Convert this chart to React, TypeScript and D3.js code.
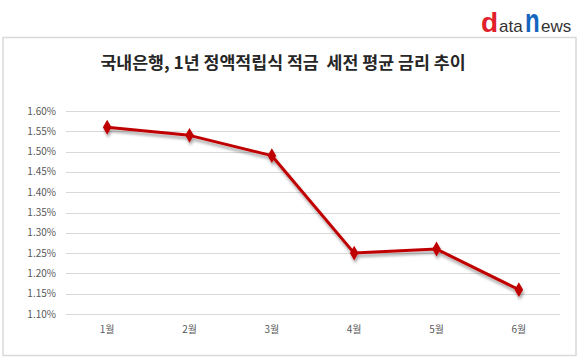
import React from "react";
import * as d3 from "d3";

const categories = ["1월", "2월", "3월", "4월", "5월", "6월"];
const values = [1.56, 1.54, 1.49, 1.25, 1.26, 1.16];
const yTicks = [1.1, 1.15, 1.2, 1.25, 1.3, 1.35, 1.4, 1.45, 1.5, 1.55, 1.6];
const title = "국내은행, 1년 정액적립식 적금  세전 평균 금리 추이";

export default function App() {
  const W = 580, H = 360;
  const left = 66, right = 560, top = 111, bottom = 314;
  const x = d3.scaleBand<string>().domain(categories).range([left, right]);
  const y = d3.scaleLinear().domain([1.1, 1.6]).range([bottom, top]);
  const cx = (c: string) => (x(c) as number) + x.bandwidth() / 2;
  const line = d3
    .line<number>()
    .x((_, i) => cx(categories[i]))
    .y((v) => y(v));
  const diamond = d3.symbol().type(d3.symbolDiamond).size(64)();
  const font = "'Noto Sans CJK KR', 'Noto Sans', sans-serif";
  return (
    <svg
      width={W}
      height={H}
      style={{ position: "absolute", left: 0, top: 0, background: "#fff" }}
    >
      <defs>
        <filter id="sh" x="-10%" y="-10%" width="120%" height="130%">
          <feGaussianBlur in="SourceAlpha" stdDeviation="1.5" />
          <feOffset dx="1" dy="2.5" result="b" />
          <feComponentTransfer>
            <feFuncA type="linear" slope="0.35" />
          </feComponentTransfer>
          <feMerge>
            <feMergeNode />
            <feMergeNode in="SourceGraphic" />
          </feMerge>
        </filter>
      </defs>
      <rect x={0} y={0} width={W} height={H} fill="#fff" />
      {/* logo */}
      <g fontFamily="Arial, 'Liberation Sans', sans-serif">
        <text x={481} y={32} fontSize={28} fontWeight="900" fill="#e0202a">d</text>
        <text x={499} y={32} fontSize={17} fill="#333">ata</text>
        <text
          x={0}
          y={0}
          fontSize={24}
          fontWeight="900"
          fill="#1565c0"
          transform="translate(525,32) scale(1,1.35)"
        >
          n
        </text>
        <text x={541} y={32} fontSize={17} fill="#333">ews</text>
      </g>
      <rect
        x={3}
        y={37.5}
        width={573}
        height={318}
        fill="#fff"
        stroke="#d9d9d9"
        strokeWidth={1.5}
      />
      <text
        x={283}
        y={68.5}
        textAnchor="middle"
        fontFamily={font}
        fontSize={17.3}
        fontWeight="bold"
        fill="#262626"
        style={{ whiteSpace: "pre" }}
      >
        {title}
      </text>
      {yTicks.map((t) => (
        <g key={t}>
          <line
            x1={left}
            x2={right}
            y1={Math.round(y(t)) + 0.5}
            y2={Math.round(y(t)) + 0.5}
            stroke="#d9d9d9"
            strokeWidth={1}
          />
          <text
            x={56}
            y={y(t)}
            dy="0.35em"
            textAnchor="end"
            fontFamily={font}
            fontSize={10}
            fill="#595959"
          >
            {t.toFixed(2) + "%"}
          </text>
        </g>
      ))}
      {categories.map((c) => (
        <text
          key={c}
          x={cx(c)}
          y={333}
          textAnchor="middle"
          fontFamily={font}
          fontSize={10}
          fill="#595959"
        >
          {c}
        </text>
      ))}
      <g filter="url(#sh)">
        <path d={line(values) || ""} fill="none" stroke="#c00000" strokeWidth={3} strokeLinejoin="round" />
        {values.map((v, i) => (
          <path
            key={i}
            d={diamond || ""}
            transform={`translate(${cx(categories[i])},${y(v)})`}
            fill="#c00000"
          />
        ))}
      </g>
    </svg>
  );
}
